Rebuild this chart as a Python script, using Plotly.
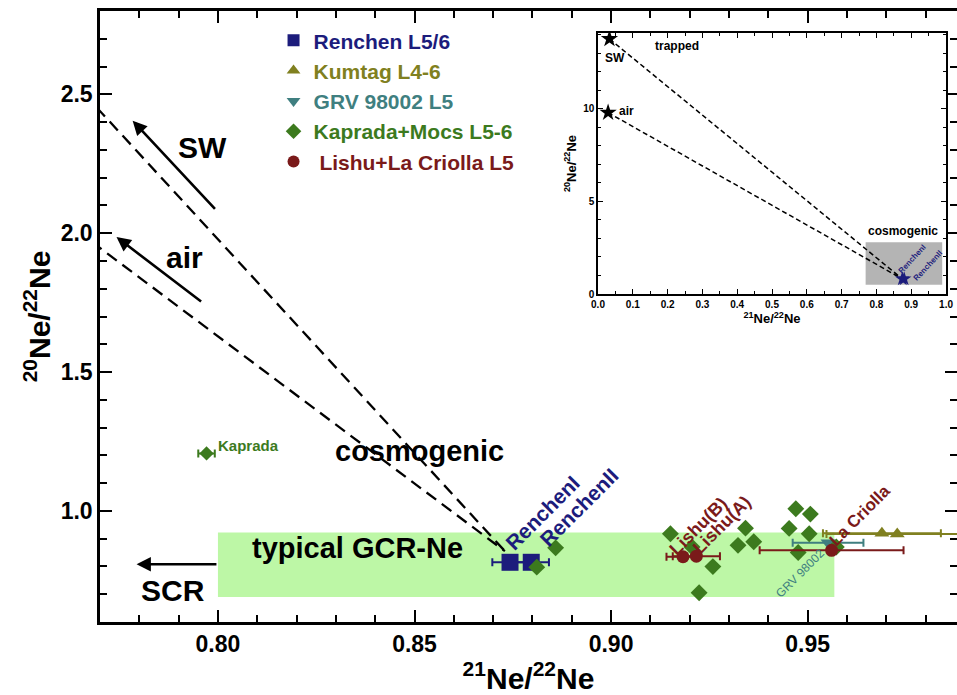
import plotly.graph_objects as go

# ---------------- data ----------------
renchen_x = [0.8743, 0.8797]
renchen_y = [0.815, 0.815]
renchen_ex = [0.0045, 0.0045]
renchen_labels = ["RenchenI", "RenchenII"]

kumtag_x = [0.9689, 0.9728]
kumtag_y = [0.920, 0.9165]
kumtag_ex = [0.015, 0.018]

grv_x = [0.9552]
grv_y = [0.8855]
grv_ex = [0.009]

mocs_x = [0.8859, 0.8811, 0.9151, 0.9206, 0.9259, 0.9224, 0.9342, 0.9323,
          0.9363, 0.9470, 0.9507, 0.9453, 0.9504, 0.9476, 0.9573]
mocs_y = [0.867, 0.7975, 0.918, 0.870, 0.7995, 0.7054, 0.938, 0.876,
          0.889, 1.0076, 0.9885, 0.937, 0.918, 0.850, 0.870]
kaprada_x = [0.7971]
kaprada_y = [1.207]
kaprada_ex = [0.0021]

lishu_x = [0.9183, 0.9217, 0.9561]
lishu_y = [0.835, 0.837, 0.858]
lishu_ex = [0.0042, 0.006, 0.0183]
lishu_labels = ["Lishu(B)", "Lishu(A)", "La Criolla"]

# trapped end members (SW, air) and cosmogenic end point of mixing lines
trapped_names = ["SW", "air"]
trapped_x = [0.0329, 0.029]
trapped_y = [13.78, 9.8]
cosmo_end = (0.873, 0.855)

gcr_box_x = [0.80, 0.9568]
gcr_box_y = [0.69, 0.922]
inset_box_x = [0.769, 0.989]
inset_box_y = [0.5, 2.8]

x_range = [0.77, 0.988]
y_range = [0.6, 2.8]
inset_x_range = [0.0, 1.0]
inset_y_range = [0.0, 14.1]

# ---------------- style ----------------
C_REN = "#1c1c7c"
C_KUM = "#808020"
C_GRV = "#3f7f80"
C_MOC = "#3c7a1e"
C_LIS = "#7a1a1a"
FONT = "Liberation Sans, Arial, sans-serif"

fig = go.Figure()


def err(arr, color):
    return dict(type="data", array=arr, color=color, thickness=2, width=4)


fig.add_trace(go.Scatter(
    x=renchen_x, y=renchen_y, mode="markers", legendgroup="a",
    name=f"<span style='color:{C_REN}'><b>Renchen L5/6</b></span>",
    marker=dict(symbol="square", size=17, color=C_REN),
    error_x=err(renchen_ex, C_REN)))
fig.add_trace(go.Scatter(
    x=kumtag_x, y=kumtag_y, mode="markers", legendgroup="b",
    name=f"<span style='color:{C_KUM}'><b>Kumtag L4-6</b></span>",
    marker=dict(symbol="triangle-up", size=13, color=C_KUM),
    error_x=err(kumtag_ex, C_KUM)))
fig.add_trace(go.Scatter(
    x=grv_x, y=grv_y, mode="markers", legendgroup="c",
    name=f"<span style='color:{C_GRV}'><b>GRV 98002 L5</b></span>",
    marker=dict(symbol="triangle-down", size=13, color=C_GRV),
    error_x=err(grv_ex, C_GRV)))
fig.add_trace(go.Scatter(
    x=mocs_x, y=mocs_y, mode="markers", legendgroup="d",
    name=f"<span style='color:{C_MOC}'><b>Kaprada+Mocs L5-6</b></span>",
    marker=dict(symbol="diamond", size=13, color=C_MOC)))
fig.add_trace(go.Scatter(
    x=kaprada_x, y=kaprada_y, mode="markers", legendgroup="d", showlegend=False,
    marker=dict(symbol="diamond", size=11, color=C_MOC),
    error_x=err(kaprada_ex, C_MOC)))
fig.add_trace(go.Scatter(
    x=lishu_x, y=lishu_y, mode="markers", legendgroup="e",
    name=f"<span style='color:{C_LIS}'><b>&nbsp;Lishu+La Criolla L5</b></span>",
    marker=dict(symbol="circle", size=13, color=C_LIS),
    error_x=err(lishu_ex, C_LIS)))

# mixing lines in main plot (clipped by axes)
for tx, ty in zip(trapped_x, trapped_y):
    fig.add_trace(go.Scatter(
        x=[tx, cosmo_end[0]], y=[ty, cosmo_end[1]], mode="lines",
        line=dict(color="black", width=2.3, dash="12px,7px"), showlegend=False,
        hoverinfo="skip"))

# inset traces
for tx, ty in zip(trapped_x, trapped_y):
    fig.add_trace(go.Scatter(
        x=[tx, renchen_x[0]], y=[ty, renchen_y[0]], mode="lines",
        line=dict(color="black", width=1.5, dash="5px,3px"), showlegend=False,
        xaxis="x2", yaxis="y2", hoverinfo="skip"))
fig.add_trace(go.Scatter(
    x=trapped_x, y=trapped_y, mode="markers", showlegend=False,
    marker=dict(symbol="star", size=13, color="black"),
    xaxis="x2", yaxis="y2"))
fig.add_trace(go.Scatter(
    x=renchen_x, y=renchen_y, mode="markers", showlegend=False,
    marker=dict(symbol="star", size=11, color=C_REN),
    xaxis="x2", yaxis="y2"))

# ---------------- shapes ----------------
shapes = [
    dict(type="rect", xref="x", yref="y", x0=gcr_box_x[0], x1=gcr_box_x[1],
         y0=gcr_box_y[0], y1=gcr_box_y[1], fillcolor="#bdf7a6",
         line=dict(width=0), layer="below"),
    dict(type="rect", xref="x2", yref="y2", x0=inset_box_x[0], x1=inset_box_x[1],
         y0=inset_box_y[0], y1=inset_box_y[1], fillcolor="#b4b4b4",
         line=dict(width=0), layer="below"),
]

# ---------------- annotations ----------------
ann = []


def txt(x, y, t, size, color="black", bold=True, angle=0, xref="x", yref="y",
        xanchor="center"):
    ann.append(dict(x=x, y=y, xref=xref, yref=yref, text=(f"<b>{t}</b>" if bold else t),
                    showarrow=False, textangle=angle, xanchor=xanchor,
                    font=dict(size=size, color=color, family=FONT)))


def arrow(x0, y0, x1, y1):
    ann.append(dict(x=x1, y=y1, ax=x0, ay=y0, xref="x", yref="y", axref="x",
                    ayref="y", text="", showarrow=True, arrowhead=2,
                    arrowsize=1.1, arrowwidth=2.6, arrowcolor="black"))


arrow(0.7996, 2.082, 0.7783, 2.405)
arrow(0.7961, 1.750, 0.7742, 1.986)
arrow(0.8000, 0.808, 0.7793, 0.808)

txt(0.7961, 2.307, "SW", 30)
txt(0.7915, 1.912, "air", 30)
txt(0.7885, 0.712, "SCR", 30)
txt(0.8513, 1.214, "cosmogenic", 29)
txt(0.8355, 0.867, "typical GCR-Ne", 29)
txt(0.7994, 1.237, "Kaprada", 15, C_MOC, xanchor="left")

txt(0.8826, 0.995, renchen_labels[0], 21, C_REN, angle=-45)
txt(0.8918, 1.012, renchen_labels[1], 21, C_REN, angle=-45)
txt(0.9223, 0.945, lishu_labels[0], 18, C_LIS, angle=-45)
txt(0.9281, 0.951, lishu_labels[1], 18, C_LIS, angle=-45)
txt(0.9633, 0.983, lishu_labels[2], 17, C_LIS, angle=-45)
txt(0.9482, 0.775, "GRV 98002", 12, C_GRV, bold=False, angle=-45)

# inset text
txt(0.227, 13.4, "trapped", 12, xref="x2", yref="y2")
txt(0.049, 12.75, "SW", 12, xref="x2", yref="y2")
txt(0.055, 9.9, "air", 12, xref="x2", yref="y2", xanchor="left")
txt(0.877, 3.38, "cosmogenic", 12, xref="x2", yref="y2")
txt(0.901, 1.89, renchen_labels[0], 8, C_REN, angle=-47, xref="x2", yref="y2")
txt(0.949, 1.53, renchen_labels[1], 8, C_REN, angle=-47, xref="x2", yref="y2")

# ---------------- layout ----------------
main_axis = dict(showline=True, linewidth=2.5, linecolor="black", ticks="inside",
                 ticklen=12, tickwidth=2, tickcolor="black", showgrid=False,
                 zeroline=False, automargin=False,
                 tickfont=dict(size=23, family=FONT, color="black", weight="bold"))
inset_axis = dict(showline=True, linewidth=1.5, linecolor="black", mirror="ticks",
                  ticks="inside", ticklen=5, tickwidth=1.2, tickcolor="black",
                  showgrid=False, zeroline=False, automargin=False,
                  tickfont=dict(size=10, family=FONT, color="black", weight="bold"))

fig.update_layout(
    width=957, height=695,
    margin=dict(l=100, r=0, t=11, b=73, autoexpand=False),
    paper_bgcolor="white", plot_bgcolor="white",
    font=dict(family=FONT, color="black"),
    shapes=shapes, annotations=ann,
    showlegend=True,
    legend=dict(x=0.2025, y=0.985, xanchor="left", yanchor="top",
                bgcolor="rgba(0,0,0,0)", font=dict(size=21, family=FONT),
                tracegroupgap=0, traceorder="grouped", itemsizing="constant"),
    xaxis=dict(main_axis, domain=[0, 1], range=x_range, anchor="y", mirror="ticks",
               tick0=0.8, dtick=0.05, tickformat=".2f",
               minor=dict(dtick=0.01, ticks="inside", ticklen=7, tickwidth=2,
                          tickcolor="black"),
               title=dict(text="<b><sup>21</sup>Ne/<sup>22</sup>Ne</b>", standoff=6,
                          font=dict(size=30, family=FONT, color="black"))),
    yaxis=dict(main_axis, domain=[0, 1], range=y_range, anchor="x",
               tick0=0, dtick=0.5, tickformat=".1f",
               minor=dict(dtick=0.1, ticks="inside", ticklen=7, tickwidth=2,
                          tickcolor="black"),
               title=dict(text="<b><sup>20</sup>Ne/<sup>22</sup>Ne</b>", standoff=2,
                          font=dict(size=30, family=FONT, color="black"))),
    yaxis3=dict(overlaying="y", side="right", anchor="free", position=1,
                range=y_range, showline=False, ticks="inside", ticklen=12,
                tickwidth=2, tickcolor="black", tick0=0, dtick=0.5,
                showticklabels=False, showgrid=False, zeroline=False,
                automargin=False,
                minor=dict(dtick=0.1, ticks="inside", ticklen=7, tickwidth=2,
                           tickcolor="black")),
    xaxis2=dict(inset_axis, domain=[0.5811, 0.9872], range=inset_x_range, anchor="y2",
                tick0=0, dtick=0.1, tickformat=".1f",
                minor=dict(dtick=0.05, ticks="inside", ticklen=3, tickwidth=1,
                           tickcolor="black"),
                title=dict(text="<b><sup>21</sup>Ne/<sup>22</sup>Ne</b>", standoff=2,
                           font=dict(size=13, family=FONT, color="black"))),
    yaxis2=dict(inset_axis, domain=[0.5368, 0.964], range=inset_y_range, anchor="x2",
                tick0=0, dtick=5,
                minor=dict(dtick=1, ticks="inside", ticklen=3, tickwidth=1,
                           tickcolor="black"),
                title=dict(text="<b><sup>20</sup>Ne/<sup>22</sup>Ne</b>", standoff=4,
                           font=dict(size=13, family=FONT, color="black"))),
)

# dummy invisible trace so yaxis3 is rendered
fig.add_trace(go.Scatter(x=[None], y=[None], yaxis="y3", showlegend=False,
                         hoverinfo="skip"))

fig.write_html("out.html")
